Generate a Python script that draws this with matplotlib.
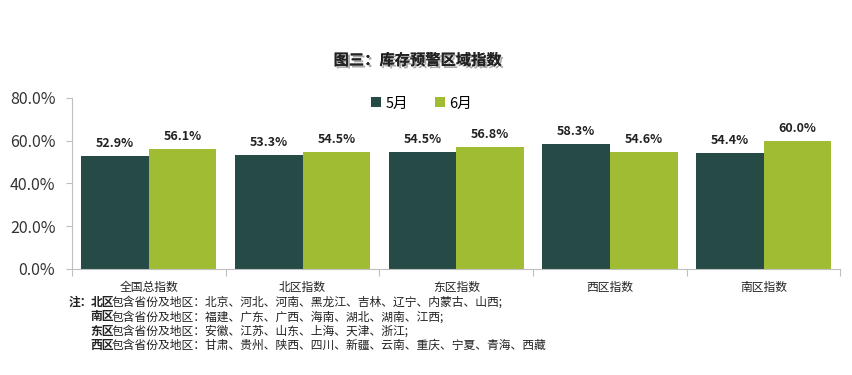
import matplotlib
matplotlib.use('Agg')
import matplotlib.pyplot as plt
import matplotlib.patheffects as pe
import numpy as np

plt.rcParams['font.family'] = ['Noto Sans CJK SC', 'DejaVu Sans']

categories = ['全国总指数', '北区指数', '东区指数', '西区指数', '南区指数']
may = [52.9, 53.3, 54.5, 58.3, 54.4]
june = [56.1, 54.5, 56.8, 54.6, 60.0]
series_names = ['5月', '6月']
yticks = [0, 20, 40, 60, 80]

notes = [
    ('北区', '包含省份及地区：北京、河北、河南、黑龙江、吉林、辽宁、内蒙古、山西;'),
    ('南区', '包含省份及地区：福建、广东、广西、海南、湖北、湖南、江西;'),
    ('东区', '包含省份及地区：安徽、江苏、山东、上海、天津、浙江;'),
    ('西区', '包含省份及地区：甘肃、贵州、陕西、四川、新疆、云南、重庆、宁夏、青海、西藏'),
]

c_may = '#264a46'
c_june = '#a0bc32'

fig = plt.figure(figsize=(8.52, 3.75), dpi=100)
ax = fig.add_axes([0.0845, 0.283, 0.902, 0.456])

x = np.arange(len(categories))
w = 0.44
b1 = ax.bar(x - w / 2, may, w, color=c_may, label=series_names[0])
b2 = ax.bar(x + w / 2, june, w, color=c_june, label=series_names[1])

for bars, vals in ((b1, may), (b2, june)):
    for r, v in zip(bars, vals):
        ax.text(r.get_x() + r.get_width() / 2, v + 2.8, '%.1f%%' % v,
                ha='center', va='bottom', fontsize=9, fontweight='bold', color='#222222')

ax.set_xlim(-0.5, len(categories) - 0.5)
ax.set_ylim(0, 80)
ax.set_yticks(yticks)
ax.set_yticklabels(['%.1f%%' % t for t in yticks], fontsize=11.5, color='#333333')
ax.set_xticks(np.arange(len(categories) + 1) - 0.5)
ax.set_xticklabels([])
ax.set_xticks(x, minor=True)
ax.set_xticklabels(categories, minor=True, fontsize=8.5, color='#222222')
ax.tick_params(axis='x', which='major', length=5, color='#bfbfbf', direction='out')
ax.tick_params(axis='x', which='minor', length=0, pad=9)
ax.tick_params(axis='y', length=4, color='#bfbfbf', pad=8)
for s in ['top', 'right']:
    ax.spines[s].set_visible(False)
ax.spines['left'].set_color('#bfbfbf')
ax.spines['bottom'].set_color('#bfbfbf')

leg = ax.legend(loc='upper center', bbox_to_anchor=(0.455, 1.085), ncol=2, frameon=False,
                fontsize=10.5, handlelength=0.7, handleheight=0.7, columnspacing=1.8,
                handletextpad=0.3)

fig.text(0.49, 0.84, '图三：库存预警区域指数', ha='center', va='center', fontsize=11,
         fontweight='bold', color='#222222',
         path_effects=[pe.withSimplePatchShadow(offset=(1.5, -1.5), alpha=0.35), pe.Normal()])

# notes under the chart
fs_note = 8.5
fig.text(0.080, 0.193, '注：', fontsize=fs_note, fontweight='bold', color='#222222', va='center')
y0 = 0.193
for i, (region, rest) in enumerate(notes):
    yy = y0 - i * 0.038
    t = fig.text(0.106, yy, region, fontsize=fs_note, fontweight='bold', color='#222222', va='center')
    ax.annotate(rest, xy=(1, 0.5), xycoords=t, xytext=(-1.5, 0), textcoords='offset points',
                va='center', ha='left', fontsize=fs_note, color='#222222', annotation_clip=False)

fig.savefig('out.png', dpi=100)
